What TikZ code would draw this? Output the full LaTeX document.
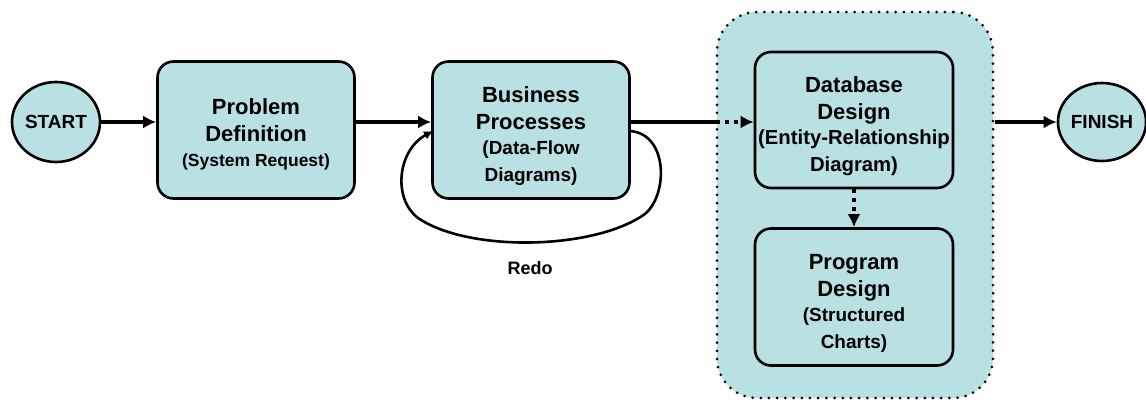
\documentclass[tikz,border=0pt]{standalone}
\usepackage{fontspec}
\setmainfont{Liberation Sans}
\usepackage{tikz}
\usepackage{xcolor}
\usetikzlibrary{arrows.meta, positioning, shapes.geometric}

\definecolor{stagefill}{RGB}{185,224,227}
\newcommand{\headfont}{\fontsize{22}{27}\selectfont\bfseries}
\newcommand{\notefont}{\fontsize{19}{24}\selectfont\bfseries}

\begin{document}
\begin{tikzpicture}[
    x=1pt, y=-1pt,
    stage/.style={
      rectangle,
      rounded corners=16pt,
      draw=black,
      line width=2.6pt,
      fill=stagefill,
      align=center,
      inner sep=1pt,
      minimum width=197pt,
      minimum height=137pt,
      font=\headfont
    },
    terminal/.style={
      ellipse,
      draw=black,
      line width=2.6pt,
      fill=stagefill,
      inner sep=0pt,
      font=\fontsize{19}{23}\selectfont\bfseries
    },
    group/.style={
      rectangle,
      rounded corners=40pt,
      draw=black,
      line width=3pt,
      line cap=round,
      dash pattern=on 0pt off 8.2pt,
      fill=stagefill,
      minimum width=276pt,
      minimum height=386pt
    },
    line/.style={-{Latex[length=13pt, width=13pt]}, line width=4pt},
    plain/.style={line width=4pt},
    dots/.style={-{Latex[length=13pt, width=13pt]}, line width=4pt, dash pattern=on 4pt off 5pt},
    loopline/.style={-{Latex[length=9pt, width=9pt]}, line width=2.6pt}
  ]
    \useasboundingbox (0,0) rectangle (1146,402);

    \node[group] (design) at (855,205) {};

    \node[terminal, minimum width=88pt, minimum height=80pt] (start) at (56,122) {START};
    \node[stage, text depth=0pt] (problem) at (256,130) {};
    \node[align=center, font=\headfont] (problemtext) at (256,134) {Problem\\Definition\\[-2pt]\fontsize{17.5}{22}\selectfont\bfseries (System Request)};
    \node[stage] (business) at (531,130) {};
    \node[align=center, font=\headfont] (businesstext) at (531,136) {Business\\Processes\\[-2pt]\notefont (Data-Flow\\\notefont Diagrams)};
    \node[stage, minimum width=198pt, minimum height=136pt] (database) at (854,120) {};
    \node[align=center, font=\headfont, inner sep=0pt] (databasetext) at (854,126) {Database\\Design\\[-2pt]\fontsize{20.3}{23}\selectfont\bfseries (Entity-Relationship\\\fontsize{20.3}{23}\selectfont\bfseries Diagram)};
    \node[stage, minimum width=198pt, minimum height=137pt] (program) at (854,297) {};
    \node[align=center, font=\headfont] (programtext) at (854,303) {Program\\Design\\[-2pt]\notefont (Structured\\\notefont Charts)};
    \node[terminal, minimum width=84pt, minimum height=78pt] (finish) at (1102,122) {FINISH};
    \node[font=\fontsize{18}{22}\selectfont\bfseries] (redo) at (530,268) {Redo};

    \coordinate (loopout) at (630,131);
    \coordinate (loopin) at (433,131);

    \draw[line] (start) -- (problem.west |- start);
    \draw[line] (problem.east |- start) -- (business.west |- start);
    \draw[plain] (business.east |- start) -- (design.west |- start);
    \draw[dots] (design.west |- start) -- (database.west |- start);
    \draw[dots] (database.south) -- (program.north);
    \draw[line] (design.east |- start) -- (finish);
    \draw[loopline] (loopout) .. controls (670,134) and (668,200) .. (642,216)
      .. controls (590,250) and (468,252) .. (418,218)
      .. controls (392,198) and (398,150) .. (loopin);
  \end{tikzpicture}
\end{document}
